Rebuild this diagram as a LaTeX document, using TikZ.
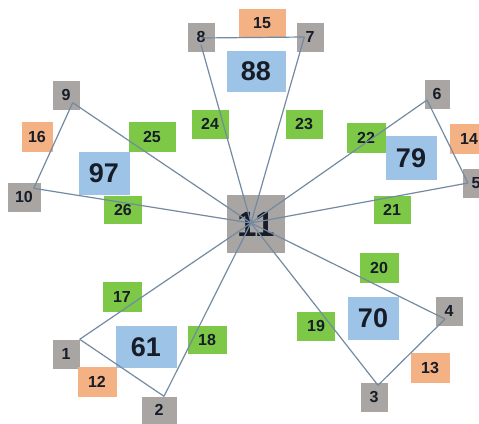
\documentclass[tikz,border=0pt]{standalone}
\usepackage{fontspec}
\setmainfont{Liberation Sans}
\usetikzlibrary{positioning}
\definecolor{NetGray}{RGB}{168,165,163}
\definecolor{NetOrange}{RGB}{244,177,131}
\definecolor{NetGreen}{RGB}{125,200,70}
\definecolor{NetBlue}{RGB}{157,195,230}
\definecolor{NetLine}{RGB}{115,138,162}
\definecolor{NetText}{RGB}{22,28,40}
\tikzset{
  port/.style={rectangle, fill=NetGray, inner sep=0pt, minimum width=27pt,
    minimum height=29pt, text=NetText, font=\bfseries\fontsize{16}{16}\selectfont},
  tag/.style={rectangle, fill=NetOrange, inner sep=0pt, minimum width=39pt,
    minimum height=30pt, text=NetText, font=\bfseries\fontsize{16}{16}\selectfont},
  edgeid/.style={rectangle, fill=NetGreen, inner sep=0pt, minimum width=39pt,
    minimum height=30pt, text=NetText, font=\bfseries\fontsize{16}{16}\selectfont},
  face/.style={rectangle, fill=NetBlue, inner sep=0pt, minimum width=51pt,
    minimum height=43pt, text=NetText, font=\bfseries\fontsize{27}{27}\selectfont},
  hub/.style={rectangle, fill=NetGray, inner sep=0pt, minimum size=58pt,
    text=NetText, font=\bfseries\fontsize{35}{35}\selectfont},
  link/.style={draw=NetLine, line width=1.2pt}
}
\begin{document}
\begin{tikzpicture}[x=1pt, y=-1pt]
  \useasboundingbox (0,0) rectangle (479,423);

  % centre
  \node[hub] (hub) at (256,224) {11};
  \coordinate (mid) at (251,223);

  % outer ports
  \node[port] (n1) at (66,354) {1};
  \node[port, minimum width=35pt, minimum height=27pt] (n2) at (159,410) {2};
  \node[port] (n3) at (374,397) {3};
  \node[port] (n4) at (449,311) {4};
  \node[port] (n5) at (476,183) {5};
  \node[port, minimum width=25pt] (n6) at (437,94) {6};
  \node[port] (n7) at (310,37) {7};
  \node[port] (n8) at (201,37) {8};
  \node[port] (n9) at (66,95) {9};
  \node[port, minimum width=33pt] (n10) at (24,197) {10};

  % orange tags
  \node[tag] (t12) at (97,382) {12};
  \node[tag] (t13) at (430,368) {13};
  \node[tag] (t14) at (469,139) {14};
  \node[tag, minimum width=47pt, minimum height=28pt] (t15) at (262,23) {15};
  \node[tag, minimum width=31pt] (t16) at (37,137) {16};

  % green edge ids
  \node[edgeid] (e17) at (122,297) {17};
  \node[edgeid, minimum height=28pt] (e18) at (207,340) {18};
  \node[edgeid, minimum width=38pt, minimum height=29pt] (e19) at (316,326) {19};
  \node[edgeid] (e20) at (379,268) {20};
  \node[edgeid, minimum width=37pt, minimum height=28pt] (e21) at (392,210) {21};
  \node[edgeid] (e22) at (366,138) {22};
  \node[edgeid, minimum width=37pt, minimum height=29pt] (e23) at (304,124) {23};
  \node[edgeid, minimum width=37pt, minimum height=29pt] (e24) at (210,124) {24};
  \node[edgeid, minimum width=47pt] (e25) at (152,137) {25};
  \node[edgeid, minimum width=38pt, minimum height=28pt] (e26) at (123,210) {26};

  % blue faces
  \node[face, minimum width=61pt, minimum height=42pt] (f61) at (146,347) {61};
  \node[face] (f70) at (373,318) {70};
  \node[face, minimum height=44pt] (f79) at (411,158) {79};
  \node[face, minimum width=59pt, minimum height=41pt] (f88) at (256,71) {88};
  \node[face] (f97) at (104,173) {97};

  % spoke ends
  \coordinate (p1) at (n1.north east);
  \coordinate (p2) at ([xshift=5pt]n2.north);
  \coordinate (p3) at ([xshift=4pt,yshift=-3pt]n3.north);
  \coordinate (p4) at ([xshift=-4pt,yshift=-8pt]n4.center);
  \coordinate (p5) at ([xshift=-8pt]n5.center);
  \coordinate (p6) at ([xshift=-10pt,yshift=-6pt]n6.center);
  \coordinate (p7) at ([xshift=8pt]n7.west);
  \coordinate (p8) at ([yshift=7pt]n8.south);
  \coordinate (p9) at ([xshift=-7pt,yshift=7pt]n9.south east);
  \coordinate (p10) at ([xshift=-7pt,yshift=-6pt]n10.north east);

  % spokes
  \draw[link] (mid) -- (p1);
  \draw[link] (mid) -- (p2);
  \draw[link] (mid) -- (p3);
  \draw[link] (mid) -- (p4);
  \draw[link] (mid) -- (p5);
  \draw[link] (mid) -- (p6);
  \draw[link] (mid) -- (p7);
  \draw[link] (mid) -- (p8);
  \draw[link] (mid) -- (p9);
  \draw[link] (mid) -- (p10);

  % rims
  \draw[link] (p1) -- (p2);
  \draw[link] (p3) -- (p4);
  \draw[link] (p5) -- (p6);
  \draw[link] (p7) -- ([yshift=-1pt]n8.center);
  \draw[link] (p9) -- (p10);
\end{tikzpicture}
\end{document}
